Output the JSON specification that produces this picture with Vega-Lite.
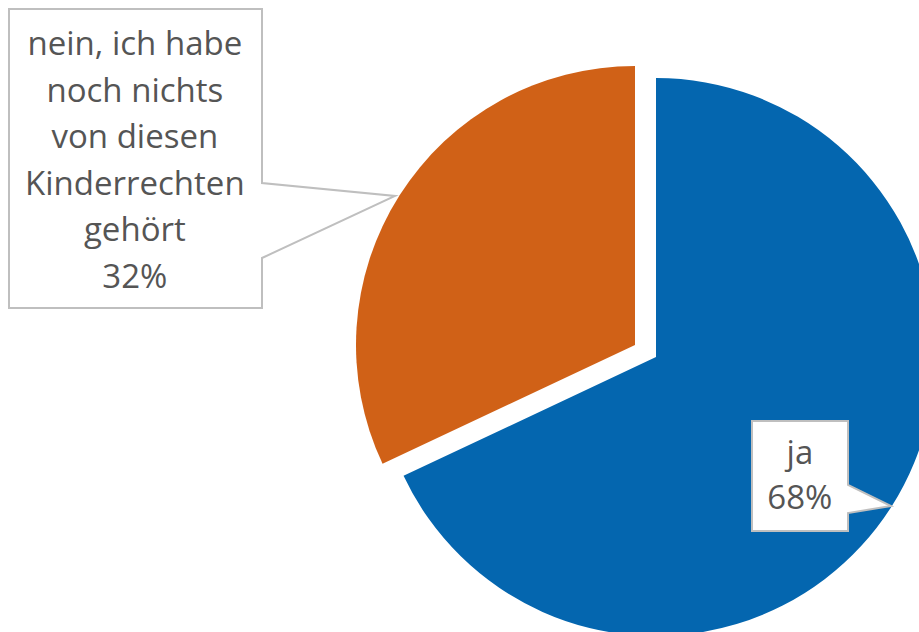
{
  "$schema": "https://vega.github.io/schema/vega-lite/v6.json",
  "autosize": {"type": "none"},
  "padding": {"left": 393, "top": 82, "right": 0, "bottom": 0},
  "width": 526,
  "height": 550,
  "background": "white",
  "config": {"view": {"stroke": null}},
  "data": {
    "values": [
      {"antwort": "ja", "anteil": 68, "label": "ja\n68%"},
      {"antwort": "nein", "anteil": 32, "label": "nein, ich habe\nnoch nichts\nvon diesen\nKinderrechten\ngehört\n32%"}
    ]
  },
  "layer": [
    {
      "mark": {"type": "arc", "outerRadius": 279},
      "encoding": {
        "theta": {"field": "anteil", "type": "quantitative", "stack": true, "scale": {"domain": [0, 100]}},
        "order": {"field": "antwort", "type": "ordinal", "sort": "ascending"},
        "color": {"field": "antwort", "type": "nominal", "scale": {"domain": ["ja", "nein"], "range": ["#0466AF", "#D06117"]}, "legend": null},
        "opacity": {"condition": {"test": "datum.antwort === 'ja'", "value": 1}, "value": 0}
      }
    },
    {
      "mark": {"type": "arc", "outerRadius": 279, "xOffset": -21, "yOffset": -12},
      "encoding": {
        "theta": {"field": "anteil", "type": "quantitative", "stack": true, "scale": {"domain": [0, 100]}},
        "order": {"field": "antwort", "type": "ordinal", "sort": "ascending"},
        "color": {"field": "antwort", "type": "nominal", "scale": {"domain": ["ja", "nein"], "range": ["#0466AF", "#D06117"]}, "legend": null},
        "opacity": {"condition": {"test": "datum.antwort === 'nein'", "value": 1}, "value": 0}
      }
    },
    {
      "mark": {"type": "point", "filled": true, "fill": "white", "stroke": "#BFBFBF", "strokeWidth": 2, "opacity": 1, "size": 4},
      "encoding": {
        "shape": {
          "field": "antwort",
          "type": "nominal",
          "scale": {
            "domain": ["ja", "nein"],
            "range": [
              "M96,64H192V128L235,149L192,156V174H96Z",
              "M-647,-348H-394V-174L-261,-161L-394,-99V-49H-647Z"
            ]
          },
          "legend": null
        }
      }
    },
    {
      "mark": {"type": "text", "radius": 187, "dx": -14, "dy": -3, "align": "center", "baseline": "middle", "lineBreak": "\n", "font": "Open Sans", "fontSize": 33, "lineHeight": 45, "color": "#555555"},
      "encoding": {
        "theta": {"field": "anteil", "type": "quantitative", "stack": true, "scale": {"domain": [0, 100]}},
        "order": {"field": "antwort", "type": "ordinal", "sort": "ascending"},
        "detail": {"field": "antwort", "type": "nominal"},
        "text": {"condition": {"test": "datum.antwort === 'ja'", "field": "label"}, "value": ""}
      }
    },
    {
      "mark": {"type": "text", "radius": 545, "dx": -61, "dy": -20, "align": "center", "baseline": "middle", "lineBreak": "\n", "font": "Open Sans", "fontSize": 33, "lineHeight": 46.6, "color": "#555555"},
      "encoding": {
        "theta": {"field": "anteil", "type": "quantitative", "stack": true, "scale": {"domain": [0, 100]}},
        "order": {"field": "antwort", "type": "ordinal", "sort": "ascending"},
        "detail": {"field": "antwort", "type": "nominal"},
        "text": {"condition": {"test": "datum.antwort === 'nein'", "field": "label"}, "value": ""}
      }
    }
  ]
}
